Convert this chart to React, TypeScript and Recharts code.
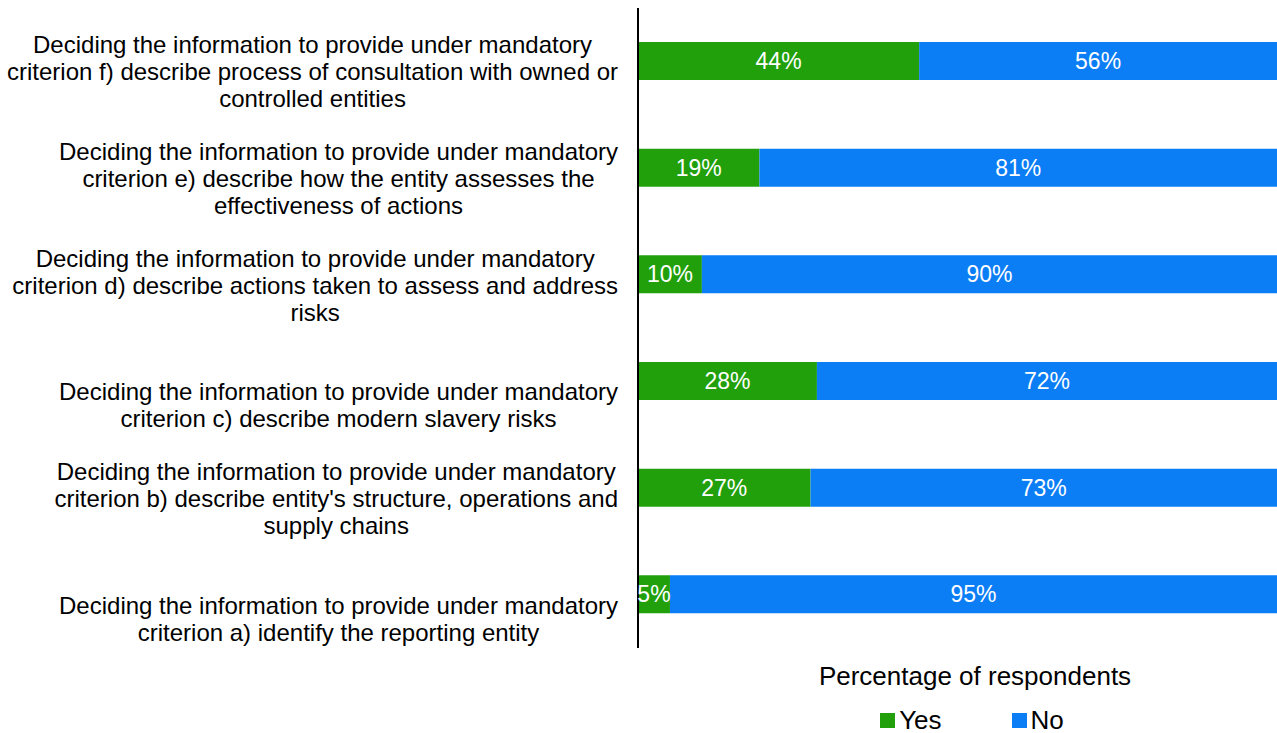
import { Bar, BarChart, LabelList, XAxis, YAxis } from "recharts";

const categories = [
	"Deciding the information to provide under mandatory\ncriterion f) describe process of consultation with owned or\ncontrolled entities",
	"Deciding the information to provide under mandatory\ncriterion e) describe how the entity assesses the\neffectiveness of actions",
	"Deciding the information to provide under mandatory\ncriterion d) describe actions taken to assess and address\nrisks",
	"Deciding the information to provide under mandatory\ncriterion c) describe modern slavery risks",
	"Deciding the information to provide under mandatory\ncriterion b) describe entity's structure, operations and\nsupply chains",
	"Deciding the information to provide under mandatory\ncriterion a) identify the reporting entity",
];
const yesValues = [44, 19, 10, 28, 27, 5];
const noValues = [56, 81, 90, 72, 73, 95];

const GREEN = "#21a00c";
const BLUE = "#0b7df5";
const FONT = "'Liberation Sans', Arial, sans-serif";
const LABEL_SIZE = 24;

const data = categories.map((name, i) => ({
	name,
	yes: yesValues[i],
	no: noValues[i],
}));

let ctx: CanvasRenderingContext2D | null = null;
function measure(text: string) {
	if (!ctx) ctx = document.createElement("canvas").getContext("2d");
	if (!ctx) return text.length * LABEL_SIZE * 0.5;
	ctx.font = `${LABEL_SIZE}px 'Liberation Sans'`;
	return ctx.measureText(text).width;
}

function CategoryTick(props: any) {
	const { x, y, payload } = props;
	const lines: string[] = String(payload.value).split("\n");
	const maxW = Math.max(...lines.map(measure));
	const right = x - 12;
	const cx = right - maxW / 2;
	const n = lines.length;
	return (
		<g>
			{lines.map((line, i) => (
				<text
					key={i}
					x={cx}
					y={y + 38 - (n - 1 - i) * 27}
					dy={8}
					textAnchor="middle"
					fill="#000"
					fontFamily={FONT}
					fontSize={LABEL_SIZE}
				>
					{line}
				</text>
			))}
		</g>
	);
}

function LegendBlock() {
	return (
		<div
			style={{
				position: "absolute",
				left: 0,
				top: 0,
				width: 1277,
				fontFamily: FONT,
				color: "#000",
			}}
		>
			<div
				style={{
					position: "absolute",
					left: 675,
					width: 600,
					top: 661,
					textAlign: "center",
					fontSize: 26,
					lineHeight: "30px",
				}}
			>
				Percentage of respondents
			</div>
			<div
				style={{
					position: "absolute",
					left: 672,
					width: 600,
					top: 705,
					display: "flex",
					justifyContent: "center",
					fontSize: 26,
					lineHeight: "30px",
				}}
			>
				<span style={{ display: "flex", alignItems: "center", marginRight: 70 }}>
					<span style={{ width: 15, height: 15, background: GREEN, marginRight: 4 }} />
					Yes
				</span>
				<span style={{ display: "flex", alignItems: "center" }}>
					<span style={{ width: 15, height: 15, background: BLUE, marginRight: 4 }} />
					No
				</span>
			</div>
		</div>
	);
}

export default function App() {
	return (
		<div style={{ position: "absolute", left: 0, top: 0, width: 1277, height: 733, background: "#fff" }}>
			<BarChart
				width={1277}
				height={733}
				data={data}
				layout="vertical"
				margin={{ top: 8, right: 0, bottom: 85, left: 0 }}
				barSize={38}
			>
				<XAxis type="number" domain={[0, 100]} hide />
				<YAxis
					type="category"
					dataKey="name"
					width={638}
					axisLine={{ stroke: "#000", strokeWidth: 2 }}
					tickLine={false}
					tick={<CategoryTick />}
					interval={0}
				/>
				<Bar dataKey="yes" stackId="a" fill={GREEN} isAnimationActive={false}>
					<LabelList
						dataKey="yes"
						position="center"
						formatter={(v: any) => `${v}%`}
						fill="#fff"
						fontFamily={FONT}
						fontSize={23}
					/>
				</Bar>
				<Bar dataKey="no" stackId="a" fill={BLUE} isAnimationActive={false}>
					<LabelList
						dataKey="no"
						position="center"
						formatter={(v: any) => `${v}%`}
						fill="#fff"
						fontFamily={FONT}
						fontSize={23}
					/>
				</Bar>
			</BarChart>
			<LegendBlock />
		</div>
	);
}
